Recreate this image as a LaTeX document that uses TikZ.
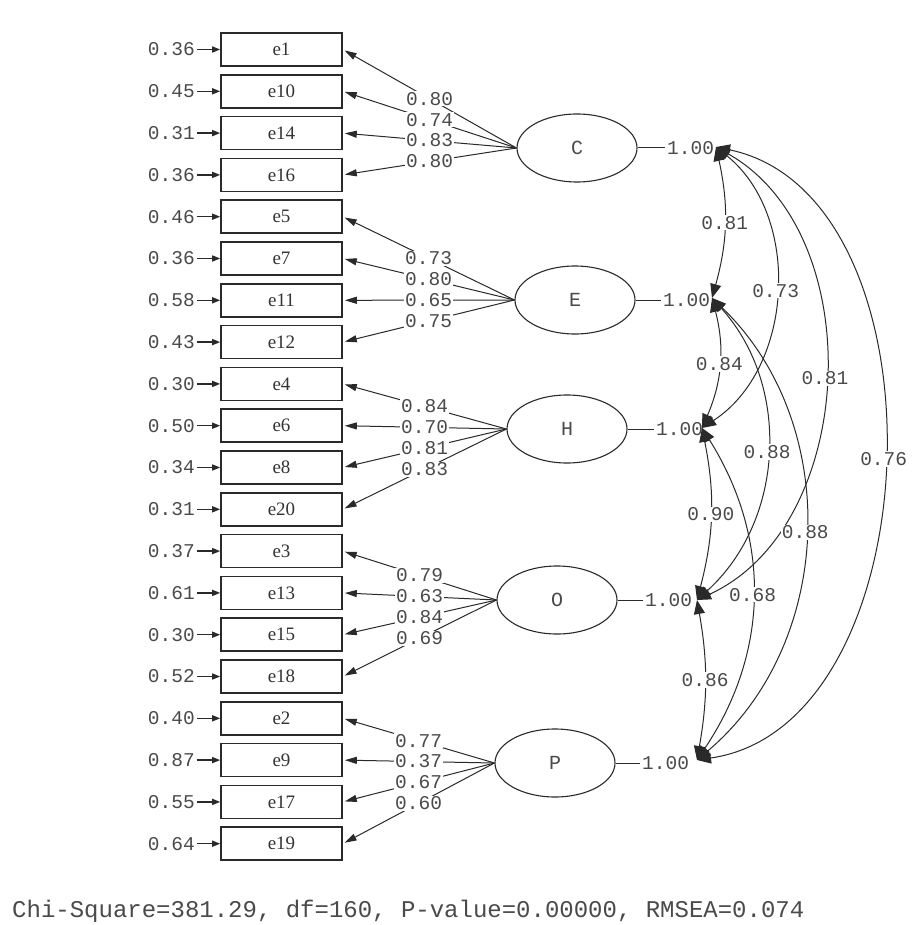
\documentclass[tikz,border=0pt]{standalone}
\usepackage{fontspec}
\setmainfont{Liberation Serif}
\newfontfamily\monof{Liberation Mono}
\usetikzlibrary{arrows.meta,shapes.geometric}
\definecolor{ln}{HTML}{2A2A2A}
\definecolor{tx}{HTML}{4A4A4A}
\tikzset{
  obs/.style={draw=ln, line width=1.6pt, minimum width=121pt, minimum height=33pt,
    inner sep=0pt, font=\fontsize{19}{19}\selectfont, text=tx!70!black},
  lat/.style={draw=ln, line width=1.1pt, ellipse, minimum width=120pt, minimum height=68pt,
    inner sep=0pt, font=\monof\fontsize{20}{20}\selectfont, text=tx},
  num/.style={font=\monof\fontsize{19.5}{20}\selectfont, text=tx, inner sep=1pt},
  lab/.style={num, fill=white, inner sep=1pt},
  load/.style={draw=ln, line width=1pt, -{Triangle[length=12pt,width=7pt]}, shorten >=2pt},
  errarrow/.style={draw=ln, line width=1.4pt, -{Triangle[length=8pt,width=6pt]}},
  cov/.style={draw=ln, line width=1pt,
    {Triangle[length=14pt,width=11pt]}-{Triangle[length=14pt,width=11pt]}},
  unitline/.style={draw=ln, line width=1pt}
}
\begin{document}
\begin{tikzpicture}[x=1pt, y=-1pt]
\fill[white] (0,0) rectangle (916,925);
\useasboundingbox (0,0) rectangle (916,925);

% observed boxes with error variances
\foreach \n/\v [count=\i from 0] in {e1/0.36, e10/0.45, e14/0.31, e16/0.36,
   e5/0.46, e7/0.36, e11/0.58, e12/0.43, e4/0.30, e6/0.50, e8/0.34, e20/0.31,
   e3/0.37, e13/0.61, e15/0.30, e18/0.52, e2/0.40, e9/0.87, e17/0.55, e19/0.64} {
  \node[obs] (\n) at (281.5, 49.5+41.8*\i) {\n};
  \node[num, anchor=east] (v\n) at (196, 49.5+41.8*\i) {\v};
  \draw[errarrow] ([xshift=1pt]v\n.east) -- (\n.west);
}

% latent variables
\node[lat] (C) at (577,148) {C};
\node[lat] (E) at (575,300) {E};
\node[lat] (H) at (567,429) {H};
\node[lat] (O) at (557,600) {O};
\node[lat] (P) at (555,763) {P};

% loadings
\foreach \t/\v in {e1/0.80, e10/0.74, e14/0.83, e16/0.80}
  \draw[load] (C.west) -- node[lab] {\v} (\t.east);
\foreach \t/\v in {e5/0.73, e7/0.80, e11/0.65, e12/0.75}
  \draw[load] (E.west) -- node[lab] {\v} (\t.east);
\foreach \t/\v in {e4/0.84, e6/0.70, e8/0.81, e20/0.83}
  \draw[load] (H.west) -- node[lab] {\v} (\t.east);
\foreach \t/\v in {e3/0.79, e13/0.63, e15/0.84, e18/0.69}
  \draw[load] (O.west) -- node[lab] {\v} (\t.east);
\foreach \t/\v in {e2/0.77, e9/0.37, e17/0.67, e19/0.60}
  \draw[load] (P.west) -- node[lab] {\v} (\t.east);

% unit variances
\node[num, anchor=west, inner sep=0pt] (uC) at (667,148) {1.00};
\node[num, anchor=west, inner sep=0pt] (uE) at (663,300) {1.00};
\node[num, anchor=west, inner sep=0pt] (uH) at (656,429) {1.00};
\node[num, anchor=west, inner sep=0pt] (uO) at (645,600) {1.00};
\node[num, anchor=west, inner sep=0pt] (uP) at (642,763) {1.00};
\draw[unitline] (C.east) -- ([xshift=-2pt]uC.west);
\draw[unitline] (E.east) -- ([xshift=-2pt]uE.west);
\draw[unitline] (H.east) -- ([xshift=-2pt]uH.west);
\draw[unitline] (O.east) -- ([xshift=-2pt]uO.west);
\draw[unitline] (P.east) -- ([xshift=-2pt]uP.west);

\coordinate (pC) at (716,147);
\coordinate (pE) at (712,298);
\coordinate (pH) at (702,428);
\coordinate (pO) at (697,600);
\coordinate (pP) at (697,760);

% correlations
\draw[cov] (pC) to[bend left=14] node[lab] {0.81} (pE);
\draw[cov] (pC) to[bend left=54] node[lab] {0.73} (pH);
\draw[cov] (pC) to[bend left=63] node[lab] {0.81} (pO);
\draw[cov] (pC) to[bend left=80] node[lab] {0.76} (pP);
\draw[cov] (pE) to[bend left=19] node[lab] {0.84} (pH);
\draw[cov] (pE) to[bend left=45] node[lab] {0.88} (pO);
\draw[cov] (pE) to[bend left=48] node[lab] {0.88} (pP);
\draw[cov] (pH) to[bend left=13] node[lab] {0.90} (pO);
\draw[cov] (pH) to[bend left=33] node[lab] {0.68} (pP);
\draw[cov] (pO) to[bend left=10] node[lab] {0.86} (pP);

% fit statistics
\node[anchor=base west, inner sep=0pt, font=\monof\fontsize{24}{24}\selectfont, text=tx]
  (fit) at (12,917) {Chi-Square=381.29, df=160, P-value=0.00000, RMSEA=0.074};
\end{tikzpicture}
\end{document}
